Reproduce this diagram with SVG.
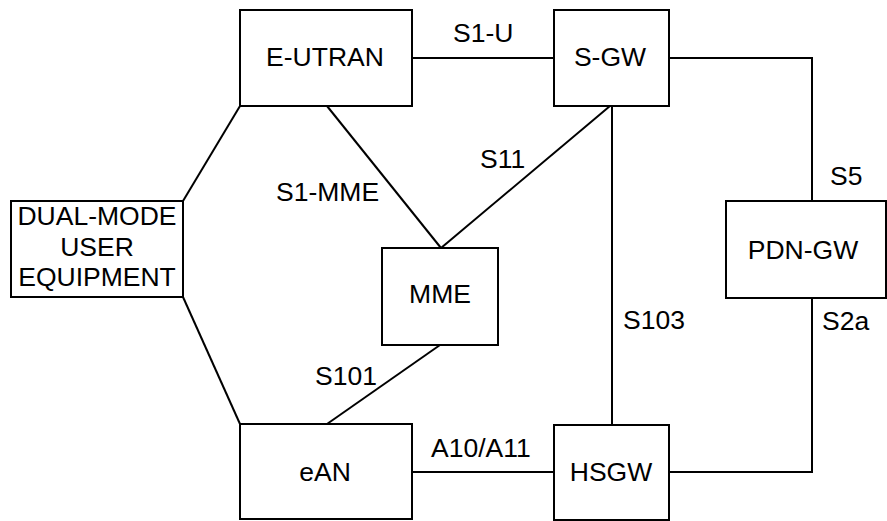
<svg xmlns="http://www.w3.org/2000/svg" width="887" height="521" viewBox="0 0 887 521">
<style>
rect.n{fill:#fff;stroke:#000;stroke-width:2}
.c{fill:none;stroke:#000;stroke-width:2}
text{font-family:"Liberation Sans",Arial,sans-serif;font-size:26.5px;fill:#000}
.m{text-anchor:middle}
</style>
<rect width="887" height="521" fill="#fff"/>
<g id="connectors">
<line class="c" x1="412" y1="58" x2="554" y2="58"/>
<polyline class="c" points="669,58 812,58 812,201"/>
<polyline class="c" points="812,298 812,472 669,472"/>
<line class="c" x1="612" y1="106" x2="612" y2="425"/>
<line class="c" x1="610" y1="106" x2="441" y2="248"/>
<line class="c" x1="327" y1="106" x2="441" y2="248"/>
<line class="c" x1="440" y1="345" x2="327" y2="424"/>
<line class="c" x1="183" y1="201" x2="240" y2="106"/>
<line class="c" x1="183" y1="297" x2="240" y2="424"/>
<line class="c" x1="412" y1="472" x2="554" y2="472"/>
<text x="453" y="42">S1-U</text>
<text x="480" y="168">S11</text>
<text x="276" y="201">S1-MME</text>
<text x="830" y="185">S5</text>
<text x="822" y="330">S2a</text>
<text x="623" y="329">S103</text>
<text x="315" y="385">S101</text>
<text x="431" y="457">A10/A11</text>
</g>
<g id="eutran"><rect class="n" x="240" y="10" width="172" height="96"/><text class="m" x="325" y="66">E-UTRAN</text></g>
<g id="sgw"><rect class="n" x="554" y="10" width="115" height="96"/><text class="m" x="610" y="66">S-GW</text></g>
<g id="pdngw"><rect class="n" x="726" y="201" width="160" height="97"/><text class="m" x="803" y="259">PDN-GW</text></g>
<g id="ue"><rect class="n" x="11" y="201" width="172" height="96"/><text class="m" x="97" y="225">DUAL-MODE</text><text class="m" x="97" y="256">USER</text><text class="m" x="97" y="286">EQUIPMENT</text></g>
<g id="mme"><rect class="n" x="382" y="248" width="116" height="97"/><text class="m" x="440" y="303">MME</text></g>
<g id="ean"><rect class="n" x="240" y="424" width="172" height="95"/><text class="m" x="325" y="481">eAN</text></g>
<g id="hsgw"><rect class="n" x="554" y="425" width="115" height="95"/><text class="m" x="611" y="481">HSGW</text></g>
</svg>
